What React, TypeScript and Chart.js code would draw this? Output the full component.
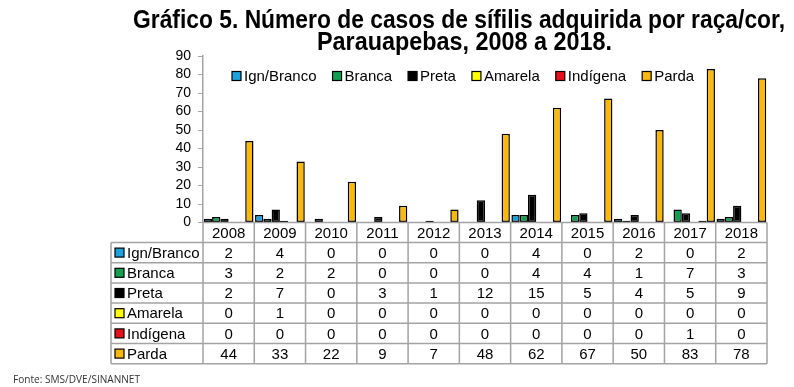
import React, { useEffect, useRef } from "react";
import { Chart, registerables } from "chart.js";

Chart.register(...registerables);

// ---- data ----
const years = ["2008", "2009", "2010", "2011", "2012", "2013", "2014", "2015", "2016", "2017", "2018"];
const seriesNames = ["Ign/Branco", "Branca", "Preta", "Amarela", "Indígena", "Parda"];
const ignBranco = [2, 4, 0, 0, 0, 0, 4, 0, 2, 0, 2];
const branca = [3, 2, 2, 0, 0, 0, 4, 4, 1, 7, 3];
const preta = [2, 7, 0, 3, 1, 12, 15, 5, 4, 5, 9];
const amarela = [0, 1, 0, 0, 0, 0, 0, 0, 0, 0, 0];
const indigena = [0, 0, 0, 0, 0, 0, 0, 0, 0, 1, 0];
const parda = [44, 33, 22, 9, 7, 48, 62, 67, 50, 83, 78];
const seriesValues = [ignBranco, branca, preta, amarela, indigena, parda];
const seriesColors = ["#1ba1dd", "#10a050", "#000000", "#ffff00", "#e8101a", "#f8b80c"];
const yMax = 90;
const yStep = 10;
const titleLines = ["Gráfico 5. Número de casos de sífilis adquirida por raça/cor,", "Parauapebas, 2008 a 2018."];
const sourceText = "Fonte: SMS/DVE/SINANNET";

// ---- styles / layout ----
const FONT = "'Liberation Sans', Arial, sans-serif";
const TITLE_FONT = "bold 26px 'Liberation Sans Narrow', 'Liberation Sans', sans-serif";
const GRID = "#a3a3a3";
const TEXT_SIZE = 15;

function fitText(ctx: CanvasRenderingContext2D, text: string, x: number, y: number, width: number) {
  const w = ctx.measureText(text).width;
  ctx.save();
  ctx.translate(x, y);
  ctx.scale(width / w, 1);
  ctx.fillText(text, 0, 0);
  ctx.restore();
}

function swatch(ctx: CanvasRenderingContext2D, x: number, yc: number, color: string) {
  const s = 9;
  ctx.fillStyle = color;
  ctx.fillRect(x, yc - s / 2, s, s);
  ctx.strokeStyle = "#000";
  ctx.lineWidth = 1.2;
  ctx.strokeRect(x, yc - s / 2, s, s);
}

const overlayPlugin = {
  id: "overlay",
  afterDraw(chart: any) {
    const ctx: CanvasRenderingContext2D = chart.ctx;
    const area = chart.chartArea;
    const n = years.length;
    const catW = (area.right - area.left) / n;
    ctx.save();

    // title
    ctx.fillStyle = "#000";
    ctx.font = TITLE_FONT;
    ctx.textBaseline = "alphabetic";
    ctx.textAlign = "left";
    fitText(ctx, titleLines[0], 133, 28, 652);
    fitText(ctx, titleLines[1], 317, 50, 295);

    // legend inside plot
    ctx.font = `${TEXT_SIZE}px ${FONT}`;
    ctx.textBaseline = "middle";
    let lx = 232;
    const ly = area.top + 20;
    seriesNames.forEach((name, i) => {
      swatch(ctx, lx, ly, seriesColors[i]);
      ctx.fillStyle = "#000";
      ctx.fillText(name, lx + 12, ly + 0.5);
      lx += 12 + ctx.measureText(name).width + 16;
    });

    // data table
    const tableLeft = 111;
    const headTop = area.bottom;
    const headH = 20;
    const rowH = 20.2;
    const rowsTop = headTop + headH;
    const bottom = rowsTop + rowH * seriesNames.length;
    ctx.strokeStyle = GRID;
    ctx.lineWidth = 1.5;
    ctx.beginPath();
    ctx.moveTo(area.left, headTop);
    ctx.lineTo(area.right, headTop);
    for (let k = 0; k <= seriesNames.length; k++) {
      const y = rowsTop + k * rowH;
      ctx.moveTo(tableLeft, y);
      ctx.lineTo(area.right, y);
    }
    for (let i = 0; i <= n; i++) {
      const x = area.left + i * catW;
      ctx.moveTo(x, headTop);
      ctx.lineTo(x, bottom);
    }
    ctx.moveTo(tableLeft, rowsTop);
    ctx.lineTo(tableLeft, bottom);
    ctx.stroke();

    ctx.fillStyle = "#000";
    ctx.font = `${TEXT_SIZE}px ${FONT}`;
    ctx.textAlign = "center";
    ctx.textBaseline = "middle";
    years.forEach((yr, i) => {
      const cx = chart.scales.x.getPixelForValue(i);
      ctx.fillText(yr, cx, headTop + headH / 2 + 1);
    });
    seriesNames.forEach((name, r) => {
      const yc = rowsTop + rowH * (r + 0.5);
      swatch(ctx, 115, yc, seriesColors[r]);
      ctx.fillStyle = "#000";
      ctx.textAlign = "left";
      ctx.fillText(name, 127, yc + 1);
      ctx.textAlign = "center";
      seriesValues[r].forEach((v, i) => {
        const cx = chart.scales.x.getPixelForValue(i);
        ctx.fillText(String(v), cx, yc + 1);
      });
    });

    // source
    ctx.fillStyle = "#333";
    ctx.font = `10px 'Open Sans', sans-serif`;
    ctx.textAlign = "left";
    ctx.textBaseline = "alphabetic";
    fitText(ctx, sourceText, 13, 383, 127);

    ctx.restore();
  },
};

export default function App() {
  const ref = useRef<HTMLCanvasElement>(null);
  useEffect(() => {
    document.body.style.margin = "0";
    const canvas = ref.current!;
    const chart = new Chart(canvas, {
      type: "bar",
      data: {
        labels: years,
        datasets: seriesNames.map((name, i) => ({
          label: name,
          data: seriesValues[i],
          backgroundColor: seriesColors[i],
          borderColor: "#000",
          borderWidth: 1.5,
          borderSkipped: false,
          categoryPercentage: 0.97,
          barPercentage: 1,
        })),
      },
      options: {
        responsive: false,
        animation: false,
        devicePixelRatio: 1,
        layout: { padding: { left: 153, right: 27, top: 56, bottom: 164.5 } },
        plugins: { legend: { display: false }, tooltip: { enabled: false }, title: { display: false } },
        scales: {
          x: { display: false },
          y: {
            min: 0,
            max: yMax,
            afterFit: (s: any) => {
              s.width = 50;
            },
            ticks: { stepSize: yStep, autoSkip: false, color: "#000", font: { family: FONT, size: 14 }, padding: 7 },
            grid: { display: true, drawOnChartArea: false, drawTicks: true, tickLength: 5, color: GRID, lineWidth: 1 },
            border: { display: true, color: GRID, width: 1.5 },
          },
        },
      },
      plugins: [overlayPlugin],
    });
    return () => chart.destroy();
  }, []);
  return (
    <div style={{ position: "absolute", left: 0, top: 0, width: 794, height: 387, background: "#fff" }}>
      <canvas ref={ref} width={794} height={387} style={{ display: "block" }} />
    </div>
  );
}
